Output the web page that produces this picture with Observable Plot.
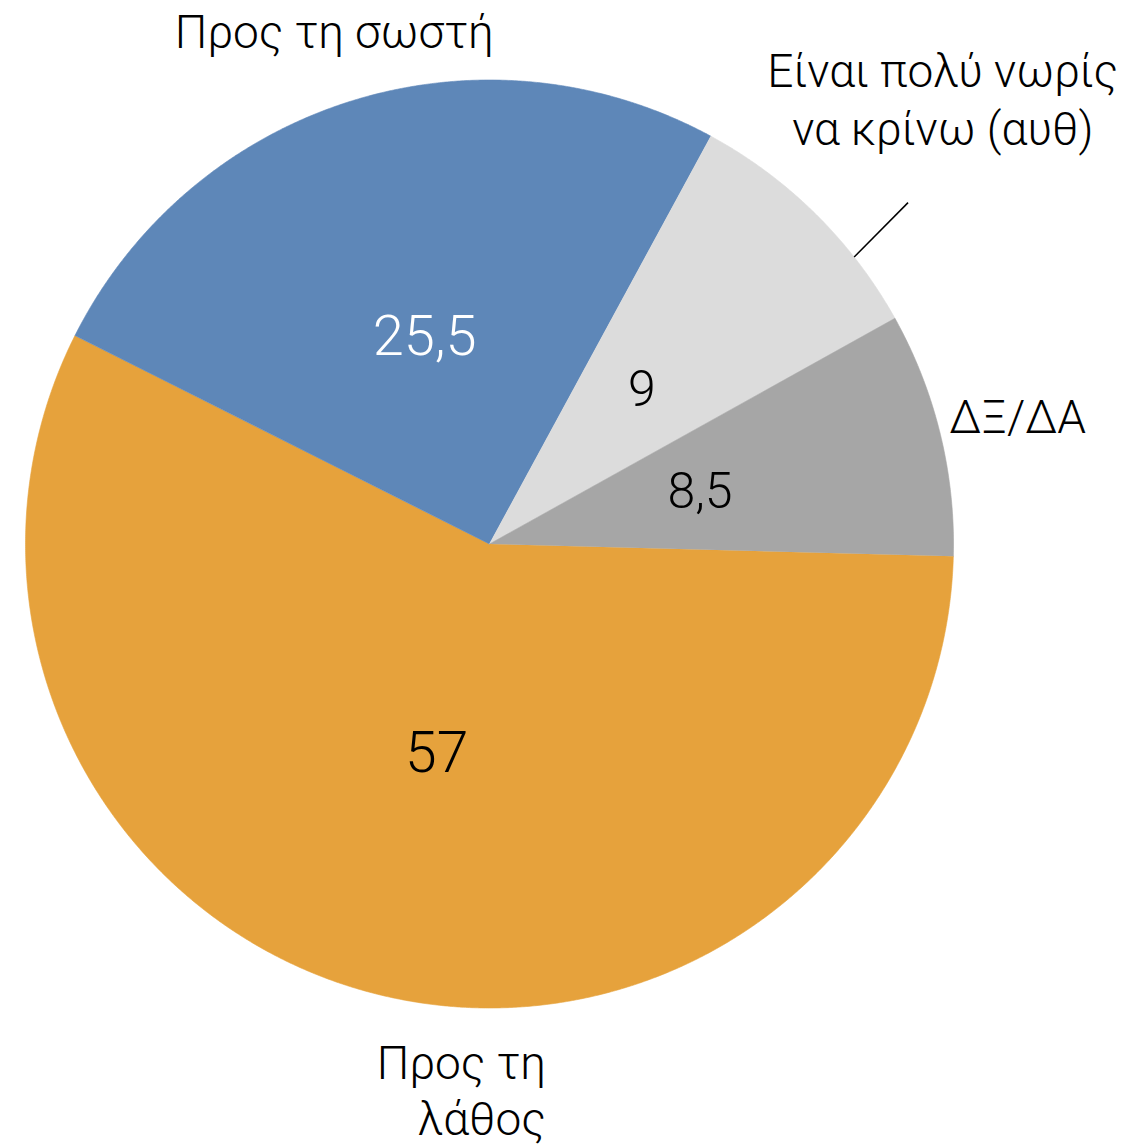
<!DOCTYPE html>
<html><head><meta charset="utf-8">
<script src="https://cdn.jsdelivr.net/npm/d3@7"></script>
<script src="https://cdn.jsdelivr.net/npm/@observablehq/plot@0.6"></script>
<style>html,body{margin:0;padding:0;background:#fff}</style>
</head><body><div id="chart"></div>
<script>
// ---- data ----
const categories = ["Προς τη λάθος", "Προς τη σωστή", "Είναι πολύ νωρίς να κρίνω (αυθ)", "ΔΞ/ΔΑ"];
const values = [57, 25.5, 9, 8.5];
const valueLabels = ["57", "25,5", "9", "8,5"];
const outerLabels = ["Προς τη\nλάθος", "Προς τη σωστή", "Είναι πολύ νωρίς\nνα κρίνω (αυθ)", "ΔΞ/ΔΑ"];

// ---- styles ----
const colors = ["#E6A23C", "#5E87B8", "#DCDCDC", "#A6A6A6"];
const valueColors = ["#000", "#fff", "#000", "#000"];
const valueSizes = [57, 56, 50, 50];
const FONT = "Roboto, 'Helvetica Neue', Arial, sans-serif";

// ---- geometry from data ----
const deg = Math.PI / 180;
const start = 91.5 * deg;
const arcs = d3.pie().sort(null).startAngle(start).endAngle(start + 2 * Math.PI)(values);
const polar = (a, r) => ({x: r * Math.sin(a), y: r * Math.cos(a)});

const slicePts = [];
arcs.forEach((a, i) => {
  slicePts.push({cat: categories[i], ...polar(0, 0)});
  const n = Math.max(2, Math.ceil((a.endAngle - a.startAngle) / (0.25 * deg)));
  for (let k = 0; k <= n; k++) {
    const t = a.startAngle + (a.endAngle - a.startAngle) * k / n;
    slicePts.push({cat: categories[i], ...polar(t, 1)});
  }
});

const mid = a => (a.startAngle + a.endAngle) / 2;
const inner = arcs.map((a, i) => ({
  ...polar(mid(a), 0.467), label: valueLabels[i], color: valueColors[i], size: valueSizes[i]
}));

// outer label placement (angle offset in degrees, radius factor, anchor)
const outerPlace = [
  {da: -20.0, r: 1.181, anchor: "end"},
  {da: 0.6, r: 1.158, anchor: "middle"},
  {da: 0.7, r: 1.372, anchor: "middle"},
  {da: 0, r: 1.172, anchor: "middle"}
];
const outer = arcs.map((a, i) => ({
  ...polar(mid(a) + outerPlace[i].da * deg, outerPlace[i].r),
  label: outerLabels[i], anchor: outerPlace[i].anchor
}));

// leader line for the light-grey slice
const lg = arcs[2];
const p1 = polar(mid(lg) + 7.1 * deg, 1.0);
const p2 = polar(mid(lg) + 6.1 * deg, 1.164);
const leader = [{x1: p1.x, y1: p1.y, x2: p2.x, y2: p2.y}];

const textCommon = {fontFamily: FONT, fontWeight: 300};

const plot = Plot.plot({
  width: 1122,
  height: 1146,
  marginLeft: 25,
  marginRight: 169,
  marginTop: 79.5,
  marginBottom: 138.5,
  x: {domain: [-1, 1], axis: null},
  y: {domain: [-1, 1], axis: null},
  color: {domain: categories, range: colors},
  style: {fontFamily: FONT, background: "#fff"},
  marks: [
    Plot.line(slicePts, {x: "x", y: "y", z: "cat", fill: "cat", stroke: "cat", strokeWidth: 0.6, curve: "linear"}),
    Plot.link(leader, {x1: "x1", y1: "y1", x2: "x2", y2: "y2", stroke: "#000", strokeWidth: 1.5}),
    ...inner.map(d => Plot.text([d], {x: "x", y: "y", text: "label", fill: d.color, fontSize: d.size, ...textCommon})),
    Plot.text(outer.filter(d => d.anchor === "middle"), {x: "x", y: "y", text: "label", fill: "#000", fontSize: 46, lineHeight: 1.26, textAnchor: "middle", ...textCommon}),
    Plot.text(outer.filter(d => d.anchor === "end"), {x: "x", y: "y", text: "label", fill: "#000", fontSize: 46, lineHeight: 1.22, textAnchor: "end", ...textCommon})
  ]
});
document.getElementById("chart").appendChild(plot);
</script>
</body></html>
